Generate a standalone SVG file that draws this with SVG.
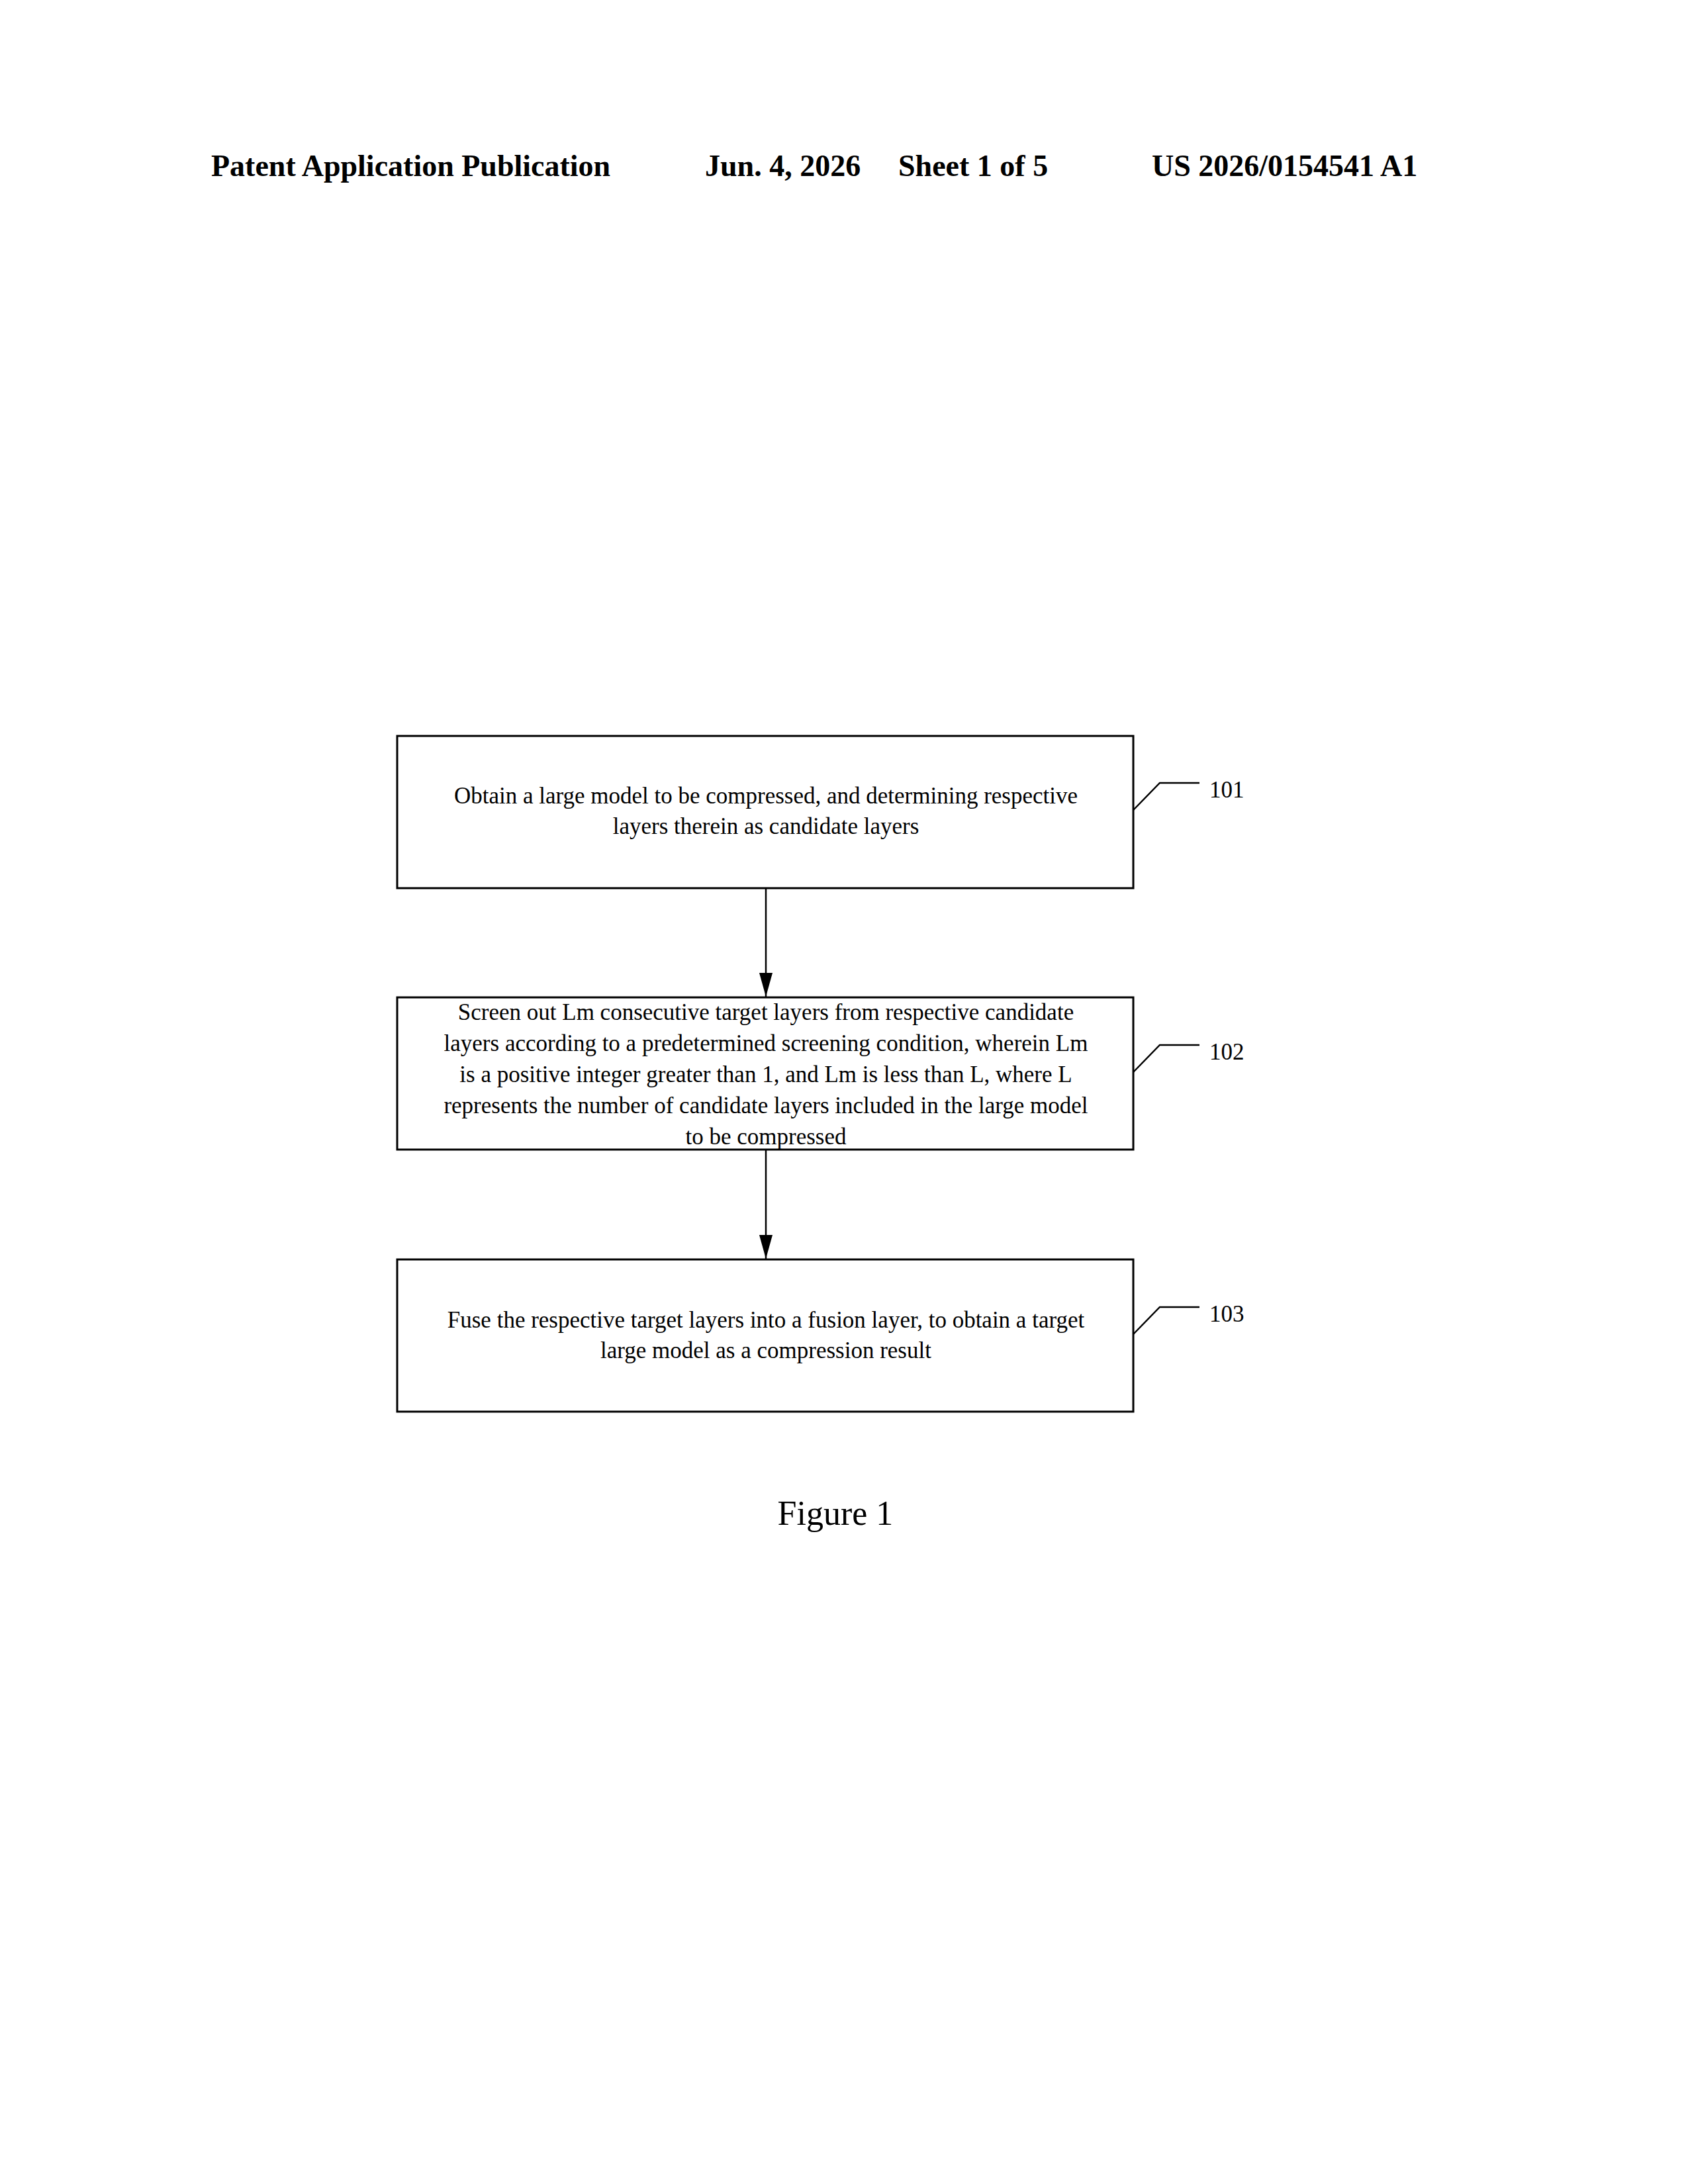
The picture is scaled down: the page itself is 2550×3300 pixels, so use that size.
<svg xmlns="http://www.w3.org/2000/svg" width="2550" height="3300" viewBox="0 0 2550 3300">
<style>
.hd{font-family:"Liberation Serif",serif;font-weight:bold;font-size:46px;fill:#000}
.t{font-family:"Liberation Serif",serif;font-size:35px;fill:#000;text-anchor:middle}
.n{font-family:"Liberation Serif",serif;font-size:35px;fill:#000}
.box{fill:#fff;stroke:#000;stroke-width:3}
.ln{fill:none;stroke:#000;stroke-width:2.5}
</style>
<defs><marker id="ah" markerWidth="10" markerHeight="12" refX="9" refY="6" orient="auto" markerUnits="userSpaceOnUse" viewBox="0 0 10 12"><path d="M0,0 L10,6 L0,12 z" fill="#000"/></marker>
<marker id="a2" viewBox="0 0 12 30" refX="30" refY="15" markerWidth="30" markerHeight="30" orient="auto" markerUnits="userSpaceOnUse"><path d="M0,0 L30,15 L0,30 z" fill="#000"/></marker></defs>
<rect width="2550" height="3300" fill="#fff"/>
<text class="hd" x="319" y="266">Patent Application Publication</text>
<text class="hd" x="1065" y="266">Jun. 4, 2026</text>
<text class="hd" x="1357" y="266">Sheet 1 of 5</text>
<text class="hd" x="1740" y="266">US 2026/0154541 A1</text>
<g id="connectors">
<line class="ln" x1="1157" y1="1342" x2="1157" y2="1507"/>
<path d="M1147,1470 L1167,1470 L1157,1506 z" fill="#000"/>
<line class="ln" x1="1157" y1="1737" x2="1157" y2="1903"/>
<path d="M1147,1866 L1167,1866 L1157,1902 z" fill="#000"/>
</g>
<g id="n101">
<rect class="box" x="600" y="1112" width="1112" height="230"/>
<text class="t" x="1157" y="1214">Obtain a large model to be compressed, and determining respective</text>
<text class="t" x="1157" y="1260">layers therein as candidate layers</text>
<path class="ln" d="M1712,1224 L1752,1183 L1812,1183"/>
<text class="n" x="1827" y="1205">101</text>
</g>
<g id="n102">
<rect class="box" x="600" y="1507" width="1112" height="230"/>
<text class="t" x="1157" y="1541">Screen out Lm consecutive target layers from respective candidate</text>
<text class="t" x="1157" y="1588">layers according to a predetermined screening condition, wherein Lm</text>
<text class="t" x="1157" y="1635">is a positive integer greater than 1, and Lm is less than L, where L</text>
<text class="t" x="1157" y="1682">represents the number of candidate layers included in the large model</text>
<text class="t" x="1157" y="1729">to be compressed</text>
<path class="ln" d="M1712,1620 L1752,1579 L1812,1579"/>
<text class="n" x="1827" y="1601">102</text>
</g>
<g id="n103">
<rect class="box" x="600" y="1903" width="1112" height="230"/>
<text class="t" x="1157" y="2006">Fuse the respective target layers into a fusion layer, to obtain a target</text>
<text class="t" x="1157" y="2052">large model as a compression result</text>
<path class="ln" d="M1712,2016 L1752,1975 L1812,1975"/>
<text class="n" x="1827" y="1997">103</text>
</g>
<text x="1262" y="2304" style="font-family:'Liberation Serif',serif;font-size:52px;text-anchor:middle">Figure 1</text>
</svg>
